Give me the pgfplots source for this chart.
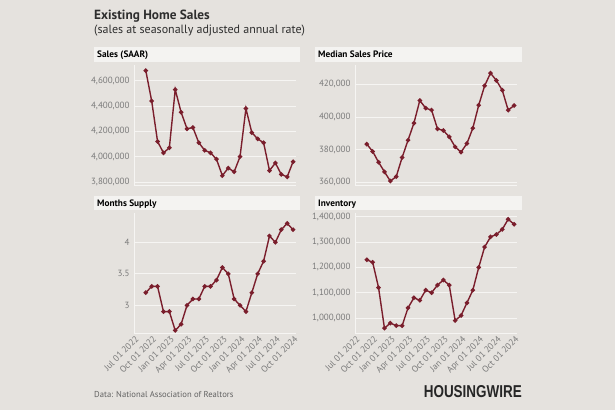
\documentclass[border=0pt]{standalone}
\usepackage{pgfplots}
\pgfplotsset{compat=1.18}
\usepackage{graphicx}
\usepackage{fontspec}
\setmainfont{PT Sans}
\newfontfamily\narrowfont{PT Sans Narrow}
\definecolor{bg}{HTML}{E5E2DE}
\definecolor{headbg}{HTML}{F4F3F1}
\definecolor{gridc}{HTML}{F6F5F3}
\definecolor{linec}{HTML}{7A1E2C}
\definecolor{tickc}{HTML}{7A7A7A}
\definecolor{titlec}{HTML}{2E2E2E}

\pgfplotsset{
  panel/.style={
    scale only axis, width=162pt, height=120pt, anchor=south west,
    xmin=0, xmax=27.5,
    xtick={0,3,...,27},
    axis line style={draw=gridc, line width=0.6pt},
    axis x line*=bottom, axis y line*=left,
    ymajorgrids, grid style={draw=gridc, line width=0.6pt},
    tick style={draw=none},
    tick label style={font=\fontsize{9}{10}\selectfont, text=tickc},
    yticklabel={\pgfmathprintnumber[fixed,1000 sep={,},assume math mode=true]{\tick}},
    yticklabel style={xshift=-1pt},
    scaled y ticks=false,
    clip=false,
  },
  ser/.style={color=linec, line width=1.4pt, mark=*, mark size=1.5pt, mark options={solid, fill=linec}},
  notx/.style={xticklabels={}},
  withx/.style={xticklabels={Jul 01 2022, Oct 01 2022, Jan 01 2023, Apr 01 2023, Jul 01 2023, Oct 01 2023, Jan 01 2024, Apr 01 2024, Jul 01 2024, Oct 01 2024},
    xticklabel style={rotate=45, anchor=north east, inner sep=1pt, yshift=-1pt}},
}

\pgfplotstableread{
m sales price supply inv
2 4680000 383300 3.2 1230000
3 4440000 378800 3.3 1220000
4 4120000 372200 3.3 1120000
5 4030000 366300 2.9 960000
6 4070000 360600 2.9 980000
7 4530000 363400 2.6 970000
8 4350000 375100 2.7 970000
9 4220000 385700 3.0 1040000
10 4230000 396200 3.1 1080000
11 4110000 410100 3.1 1070000
12 4050000 405400 3.3 1110000
13 4030000 404200 3.3 1100000
14 3980000 392700 3.4 1130000
15 3850000 391700 3.6 1150000
16 3910000 387800 3.5 1130000
17 3880000 381600 3.1 990000
18 4000000 378400 3.0 1010000
19 4380000 383700 2.9 1060000
20 4190000 393100 3.2 1110000
21 4140000 407200 3.5 1200000
22 4110000 419100 3.7 1280000
23 3890000 426900 4.1 1320000
24 3950000 422400 4.0 1330000
25 3860000 416400 4.2 1350000
26 3840000 404200 4.3 1390000
27 3960000 407000 4.2 1370000
}\datatable

\begin{document}
\begin{tikzpicture}
\useasboundingbox (0pt,0pt) rectangle (615pt,410pt);
\fill[bg] (0pt,0pt) rectangle (615pt,410pt);
% titles
\node[anchor=base west, inner sep=0, text=titlec, font=\fontsize{13.3}{16}\selectfont\bfseries] at (94pt,390pt) {Existing Home Sales};
\node[anchor=base west, inner sep=0, text=titlec, font=\fontsize{12}{14}\selectfont] at (94pt,376.5pt) {(sales at seasonally adjusted annual rate)};
% header boxes
\fill[headbg] (94pt,348pt) rectangle (300pt,363pt);
\fill[headbg] (315pt,348pt) rectangle (522pt,363pt);
\fill[headbg] (94pt,200pt) rectangle (300pt,214pt);
\fill[headbg] (315pt,200pt) rectangle (522pt,214pt);
\node[anchor=base west, inner sep=0, text=black, font=\fontsize{9.3}{10}\selectfont\bfseries] at (97pt,352.5pt) {Sales (SAAR)};
\node[anchor=base west, inner sep=0, text=black, font=\fontsize{9.3}{10}\selectfont\bfseries] at (318pt,352.5pt) {Median Sales Price};
\node[anchor=base west, inner sep=0, text=black, font=\fontsize{9.3}{10}\selectfont\bfseries] at (97pt,204pt) {Months Supply};
\node[anchor=base west, inner sep=0, text=black, font=\fontsize{9.3}{10}\selectfont\bfseries] at (318pt,204pt) {Inventory};
% footer
\node[anchor=base west, inner sep=0, text=tickc!80!black, font=\fontsize{8.6}{10}\selectfont] at (94pt,13pt) {Data: National Association of Realtors};
\node[anchor=south east, inner sep=0] at (522pt,12pt) {\resizebox{98pt}{12pt}{\fontspec{Liberation Sans}\bfseries\color{black!85}HOUSINGWIRE}};

\begin{axis}[panel, notx, at={(134pt,225pt)}, ymin=3776000, ymax=4724000, ytick={3800000,4000000,4200000,4400000,4600000}]
\addplot[ser] table[x=m, y=sales] {\datatable};
\end{axis}
\begin{axis}[panel, notx, at={(355pt,225pt)}, ymin=358200, ymax=431900, ytick={360000,380000,400000,420000}]
\addplot[ser] table[x=m, y=price] {\datatable};
\end{axis}
\begin{axis}[panel, withx, at={(134pt,77pt)}, ymin=2.56, ymax=4.465, ytick={3,3.5,4}, yticklabels={3,3.5,4}]
\addplot[ser] table[x=m, y=supply] {\datatable};
\end{axis}
\begin{axis}[panel, withx, at={(355pt,77pt)}, ymin=941000, ymax=1414600, ytick={1000000,1100000,1200000,1300000,1400000}]
\addplot[ser] table[x=m, y=inv] {\datatable};
\end{axis}
\end{tikzpicture}
\end{document}
